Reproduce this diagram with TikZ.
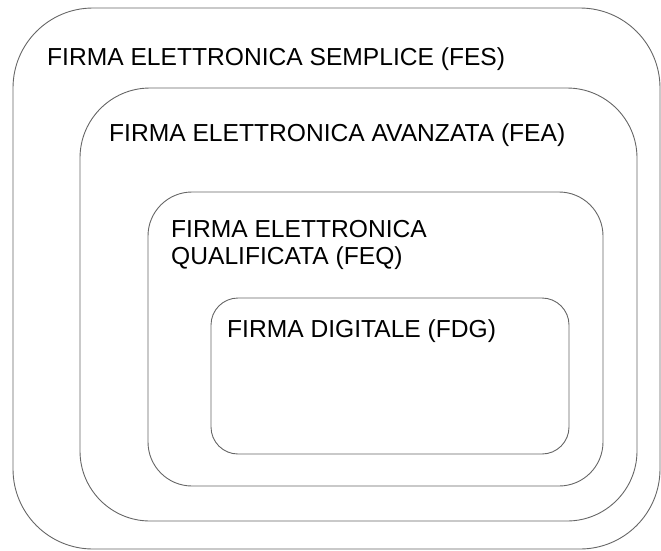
\documentclass[tikz,border=0pt]{standalone}
\usepackage{fontspec}
\setmainfont{Liberation Sans}
\begin{document}
\begin{tikzpicture}[x=1pt,y=-1pt,
  frame/.style={draw=black!60, line width=0.9pt},
  lbl/.style={anchor=base west, inner sep=0pt, font=\fontsize{24.6}{27}\selectfont, text=black}]
\useasboundingbox (0,0) rectangle (661,550);
\draw[frame, rounded corners=80] (13,8) rectangle (660,549);
\draw[frame, rounded corners=70] (80,88) rectangle (637,521);
\draw[frame, rounded corners=44] (148,192) rectangle (603,486);
\draw[frame, rounded corners=27] (211,298) rectangle (569,454);
\node[lbl] (fes) at (47,65) {FIRMA ELETTRONICA SEMPLICE (FES)};
\node[lbl] (fea) at (109,141) {FIRMA ELETTRONICA AVANZATA (FEA)};
\node[lbl] (feq1) at (171,237) {FIRMA ELETTRONICA};
\node[lbl] (feq2) at (171,264) {QUALIFICATA (FEQ)};
\node[lbl] (fdg) at (227,337) {FIRMA DIGITALE (FDG)};
\end{tikzpicture}
\end{document}
